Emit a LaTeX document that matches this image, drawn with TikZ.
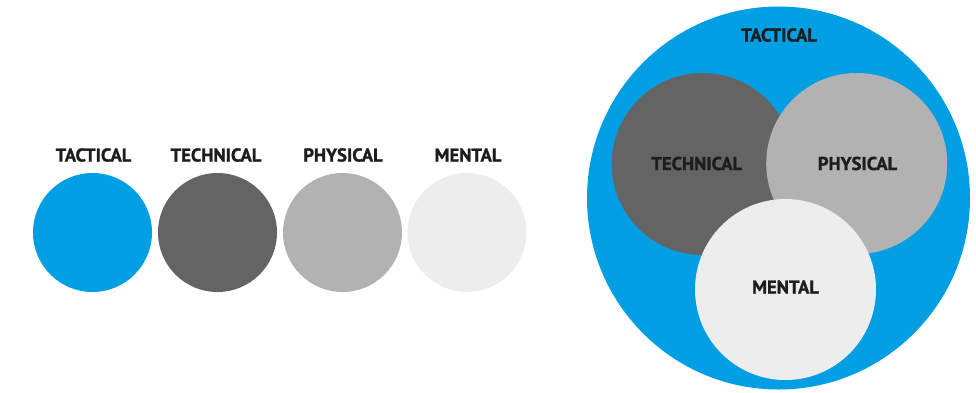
\documentclass[tikz,border=0pt]{standalone}
\usepackage{fontspec}
\setmainfont{PT Sans}[BoldFeatures={FakeBold=1.2}]
\definecolor{tacblue}{HTML}{009FE3}
\definecolor{techgray}{HTML}{646464}
\definecolor{physgray}{HTML}{B2B2B2}
\definecolor{mentgray}{HTML}{EDEDED}
\definecolor{inkdark}{HTML}{1D1D1B}
\begin{document}
\begin{tikzpicture}[x=1pt,y=-1pt,
  disc/.style={circle,draw=none,inner sep=0pt,minimum size=#1},
  tag/.style={text=inkdark,font=\fontsize{18.6}{21}\selectfont\bfseries,inner sep=0pt}]
\useasboundingbox (0,0) rectangle (976,392);
% legend row of four discs with their captions
\node[disc=119,fill=tacblue]  (tac)  at (92.5,232.5) {};
\node[disc=119,fill=techgray] (tech) at (217.5,232.5) {};
\node[disc=119,fill=physgray] (phys) at (342.5,232.5) {};
\node[disc=119,fill=mentgray] (ment) at (467,232.5) {};
\node[tag] (tacL)  at (93.5,155) {TACTICAL};
\node[tag] (techL) at (216,155) {TECHNICAL};
\node[tag] (physL) at (343,155) {PHYSICAL};
\node[tag] (mentL) at (468,155) {MENTAL};
% nested diagram: tactical contains the other three
\node[disc=383,fill=tacblue]  (bigtac)  at (778.5,198) {};
\node[disc=182,fill=techgray] (bigtech) at (702.7,164) {};
\node[disc=181,fill=physgray] (bigphys) at (856.7,163.5) {};
\node[disc=181,fill=mentgray] (bigment) at (785.5,289.5) {};
\node[tag] (bigtacL)  at (779,35) {TACTICAL};
\node[tag] (bigtechL) at (696.7,163.5) {TECHNICAL};
\node[tag] (bigphysL) at (857.5,163.5) {PHYSICAL};
\node[tag] (bigmentL) at (785.5,287) {MENTAL};
\end{tikzpicture}
\end{document}
